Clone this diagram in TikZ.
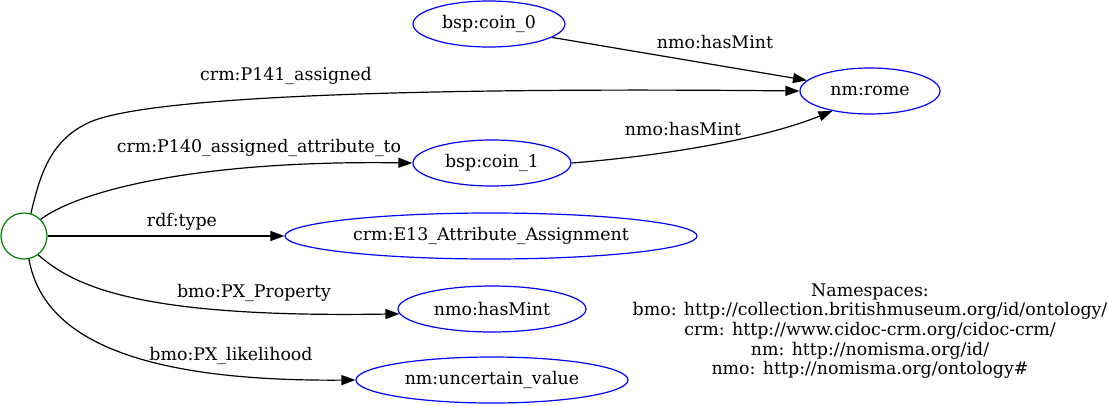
\documentclass[tikz,border=0pt]{standalone}
\usepackage{fontspec}
\setmainfont{DejaVu Serif}
\usetikzlibrary{shapes.geometric,arrows.meta}
\begin{document}
\begin{tikzpicture}[x=1pt,y=-1pt,
  every node/.style={font=\fontsize{17.4}{19.6}\selectfont, inner sep=0pt},
  res/.style={ellipse, draw=blue, line width=1.2pt, minimum height=46pt},
  blank/.style={circle, draw=green!50!black, line width=1.2pt, minimum size=46pt},
  edge/.style={draw=black, line width=1.2pt, -{Triangle[length=14pt,width=10pt]}},
  lbl/.style={anchor=center}]
\useasboundingbox (0,0) rectangle (1108,405);
\node[blank] (b) at (24,236) {};
\node[res, minimum width=152pt] (coin0) at (489,24) {bsp:coin\_0};
\node[res, minimum width=140pt] (rome) at (870,91) {nm:rome};
\node[res, minimum width=158pt] (coin1) at (492,163) {bsp:coin\_1};
\node[res, minimum width=412pt] (e13) at (491,236) {crm:E13\_Attribute\_Assignment};
\node[res, minimum width=188pt] (hasmint) at (492,309) {nmo:hasMint};
\node[res, minimum width=272pt] (uv) at (492,380) {nm:uncertain\_value};

\draw[edge] (b.73) .. controls (40,175) and (50,140) .. (90,122) .. controls (160,92) and (500,88) .. (rome.west);
\draw[edge] (coin0.348) -- (rome);
\draw[edge] (coin1.east) .. controls (660,156) and (760,140) .. (rome.208);
\draw[edge] (b.45) .. controls (80,190) and (200,160) .. (coin1.west);
\draw[edge] (b) -- (e13);
\draw[edge] (b.307) .. controls (75,287) and (140,318) .. (hasmint.183);
\draw[edge] (b.282) .. controls (40,320) and (100,382) .. (uv.west);

\node[lbl] (l1) at (715,42) {nmo:hasMint};
\node[lbl] (l2) at (286,76) {crm:P141\_assigned};
\node[lbl] (l3) at (683,129) {nmo:hasMint};
\node[lbl] (l4) at (259,148) {crm:P140\_assigned\_attribute\_to};
\node[lbl] (l5) at (182,222) {rdf:type};
\node[lbl] (l6) at (254,293) {bmo:PX\_Property};
\node[lbl] (l7) at (231,356) {bmo:PX\_likelihood};
\node[lbl, align=center] (ns) at (870,331) {Namespaces:\\bmo: http://collection.britishmuseum.org/id/ontology/\\crm: http://www.cidoc-crm.org/cidoc-crm/\\nm: http://nomisma.org/id/\\nmo: http://nomisma.org/ontology\#};
\end{tikzpicture}
\end{document}
